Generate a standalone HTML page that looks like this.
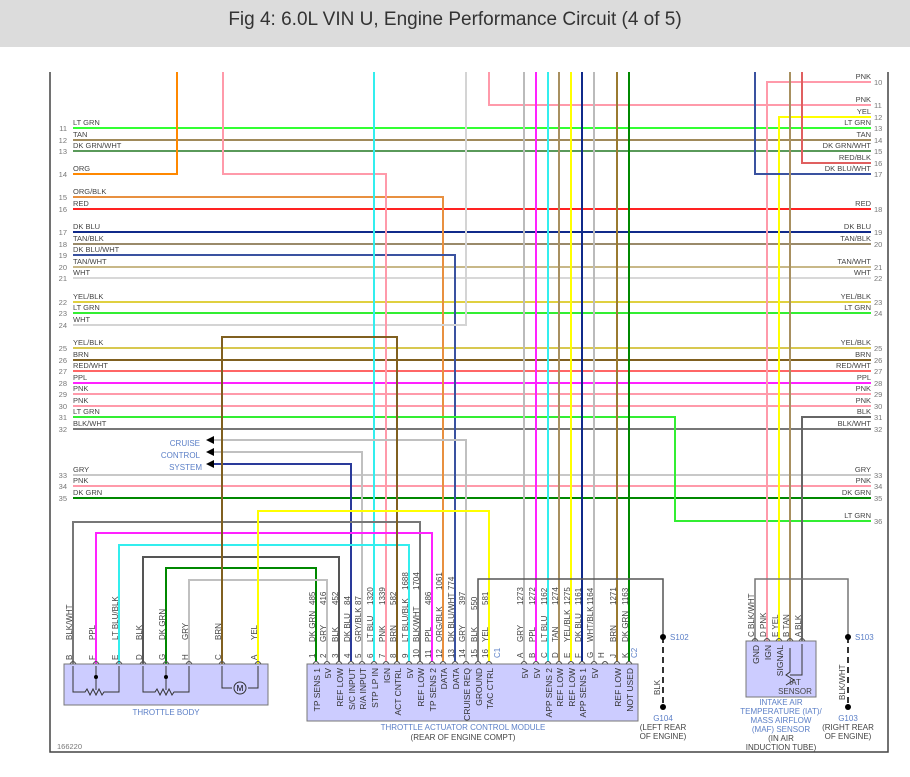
<!DOCTYPE html>
<html><head><meta charset="utf-8"><style>
body{margin:0;width:910px;height:777px;background:#fff;overflow:hidden}
svg{display:block;font-family:"Liberation Sans",sans-serif}
.l{font-size:7.5px;fill:#444}
.n{font-size:7.5px;fill:#777}
.p{font-size:8px;fill:#444}
.f{font-size:8.5px;fill:#333}
.b{font-size:8px;fill:#5b7fc7}
</style></head><body>
<svg width="910" height="777" viewBox="0 0 910 777">
<rect x="0" y="0" width="910" height="47" fill="#dcdcdc"/>
<text x="455" y="25" font-size="19" fill="#333" text-anchor="middle">Fig 4: 6.0L VIN U, Engine Performance Circuit (4 of 5)</text>
<path d="M50 72V752H888V72" fill="none" stroke="#444" stroke-width="1.5"/>
<g fill="none" stroke-width="2">
<!-- through horizontals -->
<path d="M73 128H871" stroke="#33ff33"/>
<path d="M73 140H871" stroke="#a08a5a"/>
<path d="M73 151H871" stroke="#5a9a5a"/>
<path d="M73 209H871" stroke="#ff2222"/>
<path d="M73 232H871" stroke="#102a8a"/>
<path d="M73 244H871" stroke="#9a8a6a"/>
<path d="M73 267H871" stroke="#c8b888"/>
<path d="M73 278H871" stroke="#d8d8d8"/>
<path d="M73 302H871" stroke="#e0d040"/>
<path d="M73 313H871" stroke="#33ee33"/>
<path d="M73 348H871" stroke="#d8c850"/>
<path d="M73 360H871" stroke="#806020"/>
<path d="M73 371H871" stroke="#ff6666"/>
<path d="M73 383H871" stroke="#ff22ff"/>
<path d="M73 394H871" stroke="#ff9aaa"/>
<path d="M73 406H871" stroke="#ff9aaa"/>
<path d="M73 429H871" stroke="#777"/>
<path d="M73 475H871" stroke="#c8c8c8"/>
<path d="M73 486H871" stroke="#ff9aaa"/>
<path d="M73 498H871" stroke="#008800"/>
<!-- partial -->
<path d="M73 174H177V72" stroke="#ff8800"/>
<path d="M73 197H443V662" stroke="#e89040"/>
<path d="M73 255H455V662" stroke="#3a52a0"/>
<path d="M73 325H466V72" stroke="#d4d4d4"/>
<path d="M73 417H675V521H871" stroke="#33ee33"/>
<path d="M489 72V105H871" stroke="#ff9aaa"/>
<path d="M767 641V82H871" stroke="#ff9aaa"/>
<path d="M779 641V117H871" stroke="#ffff00"/>
<path d="M802 72V163H871" stroke="#e06060"/>
<path d="M755 72V174H871" stroke="#3a52a0"/>
<path d="M802 641V417H871" stroke="#666"/>
<path d="M790 72V641" stroke="#a89060"/>
<!-- verticals to TACM -->
<path d="M223 72V174H386V662" stroke="#ff9aaa"/>
<path d="M374 72V662" stroke="#33eeee"/>
<path d="M524 72V662" stroke="#bbb"/>
<path d="M536 72V662" stroke="#ff22ff"/>
<path d="M548 72V662" stroke="#33eeee"/>
<path d="M559 72V662" stroke="#a89060"/>
<path d="M571 72V662" stroke="#ffff00"/>
<path d="M582 72V662" stroke="#102a8a"/>
<path d="M594 72V662" stroke="#bbb"/>
<path d="M617 72V662" stroke="#9a7a30"/>
<path d="M629 72V662" stroke="#008800"/>
<!-- cruise -->
<path d="M212 440H466V662" stroke="#c0c0c0"/>
<path d="M212 452H362V662" stroke="#c0c0c0"/>
<path d="M212 464H351V662" stroke="#2a3a9a"/>
<!-- throttle body -->
<path d="M73 664V522H420V662" stroke="#777"/>
<path d="M96 664V533H432V662" stroke="#ff22ff"/>
<path d="M119 664V545H409V662" stroke="#33eeee"/>
<path d="M143 664V557H339V662" stroke="#555"/>
<path d="M166 664V568H316V662" stroke="#008800"/>
<path d="M189 664V580H327V662" stroke="#c0c0c0"/>
<path d="M222 664V337H397V662" stroke="#806020"/>
<path d="M258 664V511H489V662" stroke="#ffff00"/>
<path d="M478 662V579H663V637" stroke="#555" stroke-width="1.5"/>
<path d="M755 641V579H848V637" stroke="#777" stroke-width="1.5"/>
<path d="M663 637V707M848 637V707" stroke="#333" stroke-width="2" stroke-dasharray="6,4"/>
</g>
<g fill="#000">
<path d="M206 440l8-4v8z"/><path d="M206 452l8-4v8z"/><path d="M206 464l8-4v8z"/>
<circle cx="663" cy="637" r="3"/><circle cx="848" cy="637" r="3"/>
<circle cx="663" cy="707" r="3"/><circle cx="848" cy="707" r="3"/>
</g>
<g class="b" text-anchor="end"><text x="200" y="446">CRUISE</text><text x="200" y="458">CONTROL</text><text x="202" y="470">SYSTEM</text></g>
<!-- left labels -->
<g class="l">
<text x="73" y="125">LT GRN</text><text x="73" y="137">TAN</text><text x="73" y="148">DK GRN/WHT</text><text x="73" y="171">ORG</text>
<text x="73" y="194">ORG/BLK</text><text x="73" y="206">RED</text><text x="73" y="229">DK BLU</text><text x="73" y="241">TAN/BLK</text>
<text x="73" y="252">DK BLU/WHT</text><text x="73" y="264">TAN/WHT</text><text x="73" y="275">WHT</text><text x="73" y="299">YEL/BLK</text>
<text x="73" y="310">LT GRN</text><text x="73" y="322">WHT</text><text x="73" y="345">YEL/BLK</text><text x="73" y="357">BRN</text>
<text x="73" y="368">RED/WHT</text><text x="73" y="380">PPL</text><text x="73" y="391">PNK</text><text x="73" y="403">PNK</text>
<text x="73" y="414">LT GRN</text><text x="73" y="426">BLK/WHT</text><text x="73" y="472">GRY</text><text x="73" y="483">PNK</text><text x="73" y="495">DK GRN</text>
</g>
<g class="n" text-anchor="end">
<text x="67" y="131">11</text><text x="67" y="143">12</text><text x="67" y="154">13</text><text x="67" y="177">14</text><text x="67" y="200">15</text><text x="67" y="212">16</text><text x="67" y="235">17</text><text x="67" y="247">18</text><text x="67" y="258">19</text><text x="67" y="270">20</text><text x="67" y="281">21</text><text x="67" y="305">22</text><text x="67" y="316">23</text><text x="67" y="328">24</text><text x="67" y="351">25</text><text x="67" y="363">26</text><text x="67" y="374">27</text><text x="67" y="386">28</text><text x="67" y="397">29</text><text x="67" y="409">30</text><text x="67" y="420">31</text><text x="67" y="432">32</text><text x="67" y="478">33</text><text x="67" y="489">34</text><text x="67" y="501">35</text>
</g>
<!-- right labels -->
<g class="l" text-anchor="end">
<text x="871" y="79">PNK</text><text x="871" y="102">PNK</text><text x="871" y="114">YEL</text><text x="871" y="125">LT GRN</text><text x="871" y="137">TAN</text><text x="871" y="148">DK GRN/WHT</text><text x="871" y="160">RED/BLK</text><text x="871" y="171">DK BLU/WHT</text><text x="871" y="206">RED</text><text x="871" y="229">DK BLU</text><text x="871" y="241">TAN/BLK</text><text x="871" y="264">TAN/WHT</text><text x="871" y="275">WHT</text><text x="871" y="299">YEL/BLK</text><text x="871" y="310">LT GRN</text><text x="871" y="345">YEL/BLK</text><text x="871" y="357">BRN</text><text x="871" y="368">RED/WHT</text><text x="871" y="380">PPL</text><text x="871" y="391">PNK</text><text x="871" y="403">PNK</text><text x="871" y="414">BLK</text><text x="871" y="426">BLK/WHT</text><text x="871" y="472">GRY</text><text x="871" y="483">PNK</text><text x="871" y="495">DK GRN</text><text x="871" y="518">LT GRN</text>
</g>
<g class="n">
<text x="874" y="85">10</text><text x="874" y="108">11</text><text x="874" y="120">12</text><text x="874" y="131">13</text><text x="874" y="143">14</text><text x="874" y="154">15</text><text x="874" y="166">16</text><text x="874" y="177">17</text><text x="874" y="212">18</text><text x="874" y="235">19</text><text x="874" y="247">20</text><text x="874" y="270">21</text><text x="874" y="281">22</text><text x="874" y="305">23</text><text x="874" y="316">24</text><text x="874" y="351">25</text><text x="874" y="363">26</text><text x="874" y="374">27</text><text x="874" y="386">28</text><text x="874" y="397">29</text><text x="874" y="409">30</text><text x="874" y="420">31</text><text x="874" y="432">32</text><text x="874" y="478">33</text><text x="874" y="489">34</text><text x="874" y="501">35</text><text x="874" y="524">36</text>
</g>
<!-- boxes -->
<rect x="64" y="664" width="204" height="41" fill="#ccccff" stroke="#777"/>
<rect x="307" y="664" width="331" height="57" fill="#ccccff" stroke="#777"/>
<rect x="746" y="641" width="70" height="56" fill="#ccccff" stroke="#777"/>
<text x="166" y="715" class="b" text-anchor="middle">THROTTLE BODY</text>
<text x="463" y="730" class="b" text-anchor="middle">THROTTLE ACTUATOR CONTROL MODULE</text>
<text x="463" y="740" class="p" text-anchor="middle">(REAR OF ENGINE COMPT)</text>
<text x="57" y="749" class="n">166220</text>
<g class="b" text-anchor="middle"><text x="663" y="721">G104</text><text x="848" y="721">G103</text><text x="781" y="705">INTAKE AIR</text><text x="781" y="714">TEMPERATURE (IAT)/</text><text x="781" y="723">MASS AIRFLOW</text><text x="781" y="732">(MAF) SENSOR</text></g>
<g class="p" text-anchor="middle"><text x="663" y="730">(LEFT REAR</text><text x="663" y="739">OF ENGINE)</text><text x="848" y="730">(RIGHT REAR</text><text x="848" y="739">OF ENGINE)</text><text x="781" y="741">(IN AIR</text><text x="781" y="750">INDUCTION TUBE)</text><text x="795" y="685">IAT</text><text x="795" y="694">SENSOR</text></g>
<text x="670" y="640" class="b">S102</text><text x="855" y="640" class="b">S103</text>
<text transform="rotate(-90 660 695)" x="660" y="695" class="p">BLK</text>
<text transform="rotate(-90 845 700)" x="845" y="700" class="p">BLK/WHT</text>
<!-- throttle body internals -->
<g fill="none" stroke="#333" stroke-width="1">
<path d="M73 666V692H85l2-3 3 6 3-6 3 6 3-6 3 6 2-3H119V666"/><path d="M96 666V690"/>
<path d="M143 666V692H155l2-3 3 6 3-6 3 6 3-6 3 6 2-3H189V666"/><path d="M166 666V690"/>
<path d="M222 666V688H232M248 688H258V666"/><circle cx="240" cy="688" r="6"/>
<path d="M802 644V675H790M790 648V672l-4 3 8 5-8 5"/>
</g>
<circle cx="96" cy="677" r="2"/><circle cx="166" cy="677" r="2"/>
<text x="240" y="691" font-size="8" text-anchor="middle">M</text>
<!-- connector arcs -->
<g fill="none" stroke="#555" stroke-width="1">
<path d="M70 664q3-5 6 0M93 664q3-5 6 0M116 664q3-5 6 0M140 664q3-5 6 0M163 664q3-5 6 0M186 664q3-5 6 0M219 664q3-5 6 0M255 664q3-5 6 0"/>
<path d="M313 664q3-5 6 0M324 664q3-5 6 0M336 664q3-5 6 0M348 664q3-5 6 0M359 664q3-5 6 0M371 664q3-5 6 0M383 664q3-5 6 0M394 664q3-5 6 0M406 664q3-5 6 0M417 664q3-5 6 0M429 664q3-5 6 0M440 664q3-5 6 0M452 664q3-5 6 0M463 664q3-5 6 0M475 664q3-5 6 0M486 664q3-5 6 0"/>
<path d="M521 664q3-5 6 0M533 664q3-5 6 0M545 664q3-5 6 0M556 664q3-5 6 0M568 664q3-5 6 0M579 664q3-5 6 0M591 664q3-5 6 0M602 664q3-5 6 0M614 664q3-5 6 0M626 664q3-5 6 0"/>
<path d="M752 641q3-5 6 0M764 641q3-5 6 0M776 641q3-5 6 0M787 641q3-5 6 0M799 641q3-5 6 0"/>
</g>
<!-- throttle body pin labels -->
<g class="p">
<text transform="rotate(-90 72 660)" x="72" y="660">B</text><text transform="rotate(-90 72 640)" x="72" y="640">BLK/WHT</text>
<text transform="rotate(-90 95 660)" x="95" y="660">F</text><text transform="rotate(-90 95 640)" x="95" y="640">PPL</text>
<text transform="rotate(-90 118 660)" x="118" y="660">E</text><text transform="rotate(-90 118 640)" x="118" y="640">LT BLU/BLK</text>
<text transform="rotate(-90 142 660)" x="142" y="660">D</text><text transform="rotate(-90 142 640)" x="142" y="640">BLK</text>
<text transform="rotate(-90 165 660)" x="165" y="660">G</text><text transform="rotate(-90 165 640)" x="165" y="640">DK GRN</text>
<text transform="rotate(-90 188 660)" x="188" y="660">H</text><text transform="rotate(-90 188 640)" x="188" y="640">GRY</text>
<text transform="rotate(-90 221 660)" x="221" y="660">C</text><text transform="rotate(-90 221 640)" x="221" y="640">BRN</text>
<text transform="rotate(-90 257 660)" x="257" y="660">A</text><text transform="rotate(-90 257 640)" x="257" y="640">YEL</text>
</g>
<!-- TACM pin labels: number, color, circuit -->
<g class="p">
<text transform="rotate(-90 315 658)" x="315" y="658">1</text><text transform="rotate(-90 315 642)" x="315" y="642">DK GRN</text><text transform="rotate(-90 315 605)" x="315" y="605">485</text>
<text transform="rotate(-90 326 658)" x="326" y="658">2</text><text transform="rotate(-90 326 642)" x="326" y="642">GRY</text><text transform="rotate(-90 326 605)" x="326" y="605">416</text>
<text transform="rotate(-90 338 658)" x="338" y="658">3</text><text transform="rotate(-90 338 642)" x="338" y="642">BLK</text><text transform="rotate(-90 338 605)" x="338" y="605">452</text>
<text transform="rotate(-90 350 658)" x="350" y="658">4</text><text transform="rotate(-90 350 642)" x="350" y="642">DK BLU</text><text transform="rotate(-90 350 605)" x="350" y="605">84</text>
<text transform="rotate(-90 361 658)" x="361" y="658">5</text><text transform="rotate(-90 361 642)" x="361" y="642">GRY/BLK</text><text transform="rotate(-90 361 605)" x="361" y="605">87</text>
<text transform="rotate(-90 373 658)" x="373" y="658">6</text><text transform="rotate(-90 373 642)" x="373" y="642">LT BLU</text><text transform="rotate(-90 373 605)" x="373" y="605">1320</text>
<text transform="rotate(-90 385 658)" x="385" y="658">7</text><text transform="rotate(-90 385 642)" x="385" y="642">PNK</text><text transform="rotate(-90 385 605)" x="385" y="605">1339</text>
<text transform="rotate(-90 396 658)" x="396" y="658">8</text><text transform="rotate(-90 396 642)" x="396" y="642">BRN</text><text transform="rotate(-90 396 605)" x="396" y="605">582</text>
<text transform="rotate(-90 408 658)" x="408" y="658">9</text><text transform="rotate(-90 408 642)" x="408" y="642">LT BLU/BLK</text><text transform="rotate(-90 408 590)" x="408" y="590">1688</text>
<text transform="rotate(-90 419 658)" x="419" y="658">10</text><text transform="rotate(-90 419 642)" x="419" y="642">BLK/WHT</text><text transform="rotate(-90 419 590)" x="419" y="590">1704</text>
<text transform="rotate(-90 431 658)" x="431" y="658">11</text><text transform="rotate(-90 431 642)" x="431" y="642">PPL</text><text transform="rotate(-90 431 605)" x="431" y="605">486</text>
<text transform="rotate(-90 442 658)" x="442" y="658">12</text><text transform="rotate(-90 442 642)" x="442" y="642">ORG/BLK</text><text transform="rotate(-90 442 590)" x="442" y="590">1061</text>
<text transform="rotate(-90 454 658)" x="454" y="658">13</text><text transform="rotate(-90 454 642)" x="454" y="642">DK BLU/WHT</text><text transform="rotate(-90 454 590)" x="454" y="590">774</text>
<text transform="rotate(-90 465 658)" x="465" y="658">14</text><text transform="rotate(-90 465 642)" x="465" y="642">GRY</text><text transform="rotate(-90 465 605)" x="465" y="605">397</text>
<text transform="rotate(-90 477 658)" x="477" y="658">15</text><text transform="rotate(-90 477 642)" x="477" y="642">BLK</text><text transform="rotate(-90 477 610)" x="477" y="610">550</text>
<text transform="rotate(-90 488 658)" x="488" y="658">16</text><text transform="rotate(-90 488 642)" x="488" y="642">YEL</text><text transform="rotate(-90 488 605)" x="488" y="605">581</text>
<text transform="rotate(-90 500 658)" x="500" y="658" fill="#5b7fc7">C1</text>
<text transform="rotate(-90 523 658)" x="523" y="658">A</text><text transform="rotate(-90 523 642)" x="523" y="642">GRY</text><text transform="rotate(-90 523 605)" x="523" y="605">1273</text>
<text transform="rotate(-90 535 658)" x="535" y="658">B</text><text transform="rotate(-90 535 642)" x="535" y="642">PPL</text><text transform="rotate(-90 535 605)" x="535" y="605">1272</text>
<text transform="rotate(-90 547 658)" x="547" y="658">C</text><text transform="rotate(-90 547 642)" x="547" y="642">LT BLU</text><text transform="rotate(-90 547 605)" x="547" y="605">1162</text>
<text transform="rotate(-90 558 658)" x="558" y="658">D</text><text transform="rotate(-90 558 642)" x="558" y="642">TAN</text><text transform="rotate(-90 558 605)" x="558" y="605">1274</text>
<text transform="rotate(-90 570 658)" x="570" y="658">E</text><text transform="rotate(-90 570 642)" x="570" y="642">YEL/BLK</text><text transform="rotate(-90 570 605)" x="570" y="605">1275</text>
<text transform="rotate(-90 581 658)" x="581" y="658">F</text><text transform="rotate(-90 581 642)" x="581" y="642">DK BLU</text><text transform="rotate(-90 581 605)" x="581" y="605">1161</text>
<text transform="rotate(-90 593 658)" x="593" y="658">G</text><text transform="rotate(-90 593 642)" x="593" y="642">WHT/BLK</text><text transform="rotate(-90 593 605)" x="593" y="605">1164</text>
<text transform="rotate(-90 604 658)" x="604" y="658">H</text>
<text transform="rotate(-90 616 658)" x="616" y="658">J</text><text transform="rotate(-90 616 642)" x="616" y="642">BRN</text><text transform="rotate(-90 616 605)" x="616" y="605">1271</text>
<text transform="rotate(-90 628 658)" x="628" y="658">K</text><text transform="rotate(-90 628 642)" x="628" y="642">DK GRN</text><text transform="rotate(-90 628 605)" x="628" y="605">1163</text>
<text transform="rotate(-90 637 658)" x="637" y="658" fill="#5b7fc7">C2</text>
</g>
<!-- TACM functions -->
<g class="f" text-anchor="end">
<text transform="rotate(-90 320 668)" x="320" y="668">TP SENS 1</text>
<text transform="rotate(-90 331 668)" x="331" y="668">5V</text>
<text transform="rotate(-90 343 668)" x="343" y="668">REF LOW</text>
<text transform="rotate(-90 355 668)" x="355" y="668">S/C INPUT</text>
<text transform="rotate(-90 366 668)" x="366" y="668">R/A INPUT</text>
<text transform="rotate(-90 378 668)" x="378" y="668">STP LP IN</text>
<text transform="rotate(-90 390 668)" x="390" y="668">IGN</text>
<text transform="rotate(-90 401 668)" x="401" y="668">ACT CNTRL</text>
<text transform="rotate(-90 413 668)" x="413" y="668">5V</text>
<text transform="rotate(-90 424 668)" x="424" y="668">REF LOW</text>
<text transform="rotate(-90 436 668)" x="436" y="668">TP SENS 2</text>
<text transform="rotate(-90 447 668)" x="447" y="668">DATA</text>
<text transform="rotate(-90 459 668)" x="459" y="668">DATA</text>
<text transform="rotate(-90 470 668)" x="470" y="668">CRUISE REQ</text>
<text transform="rotate(-90 482 668)" x="482" y="668">GROUND</text>
<text transform="rotate(-90 493 668)" x="493" y="668">TAC CTRL</text>
<text transform="rotate(-90 528 668)" x="528" y="668">5V</text>
<text transform="rotate(-90 540 668)" x="540" y="668">5V</text>
<text transform="rotate(-90 552 668)" x="552" y="668">APP SENS 2</text>
<text transform="rotate(-90 563 668)" x="563" y="668">REF LOW</text>
<text transform="rotate(-90 575 668)" x="575" y="668">REF LOW</text>
<text transform="rotate(-90 586 668)" x="586" y="668">APP SENS 1</text>
<text transform="rotate(-90 598 668)" x="598" y="668">5V</text>
<text transform="rotate(-90 621 668)" x="621" y="668">REF LOW</text>
<text transform="rotate(-90 633 668)" x="633" y="668">NOT USED</text>
<text transform="rotate(-90 759 645)" x="759" y="645">GND</text>
<text transform="rotate(-90 771 645)" x="771" y="645">IGN</text>
<text transform="rotate(-90 783 645)" x="783" y="645">SIGNAL</text>
</g>
<!-- MAF pin labels -->
<g class="p">
<text transform="rotate(-90 754 637)" x="754" y="637">C BLK/WHT</text>
<text transform="rotate(-90 766 637)" x="766" y="637">D PNK</text>
<text transform="rotate(-90 778 637)" x="778" y="637">E YEL</text>
<text transform="rotate(-90 789 637)" x="789" y="637">B TAN</text>
<text transform="rotate(-90 801 637)" x="801" y="637">A BLK</text>
</g>
</svg>
</body></html>
